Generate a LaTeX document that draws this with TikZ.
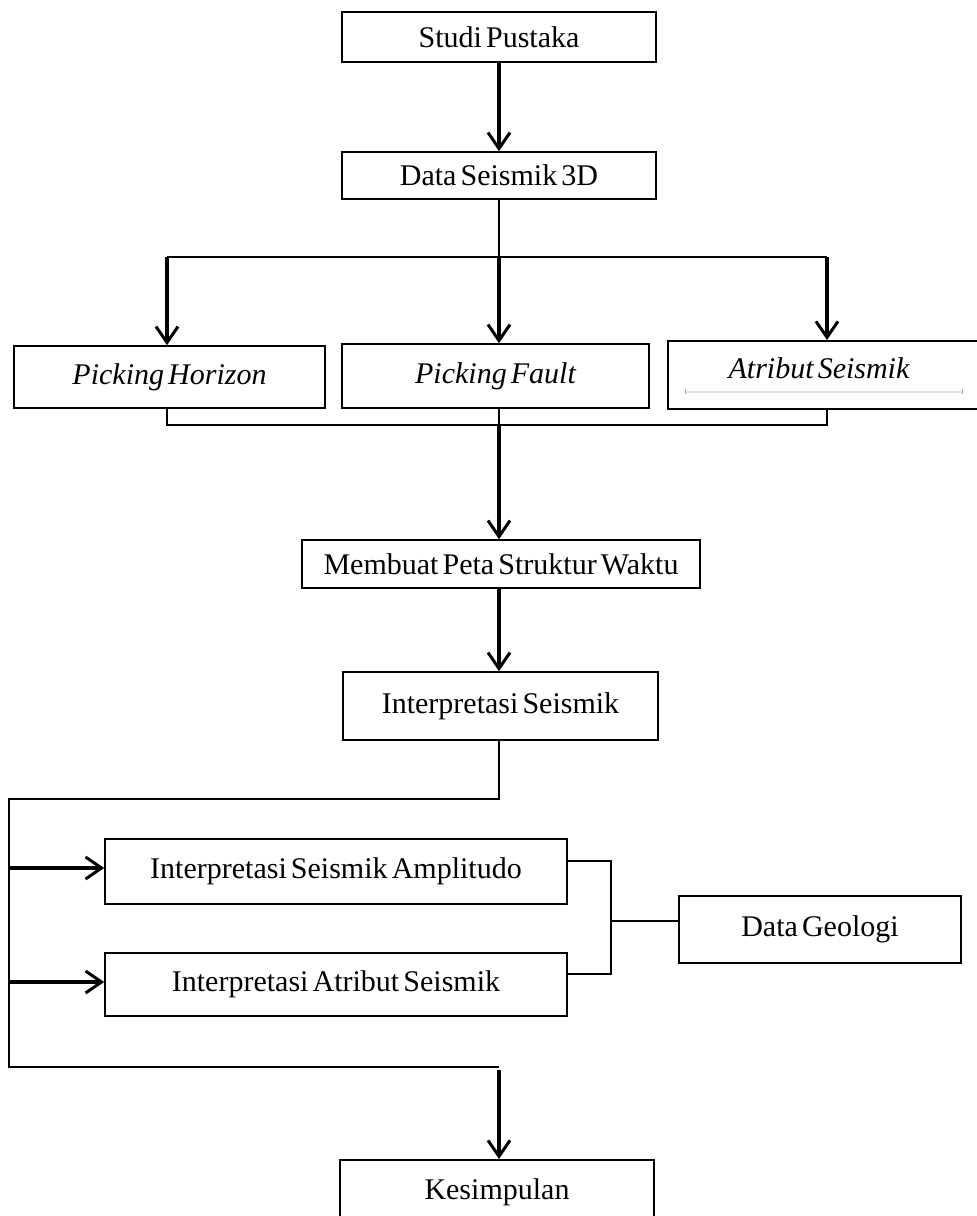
\documentclass[tikz,border=0pt]{standalone}
\usepackage{fontspec}
\setmainfont{Liberation Serif}[WordSpace=0.55]
\usetikzlibrary{arrows.meta,calc}
\begin{document}
\begin{tikzpicture}[x=1pt,y=-1pt,
  box/.style={draw, line width=1.6pt, rectangle, inner sep=0pt, font=\fontsize{30}{36}\selectfont},
  itext/.style={inner sep=0pt, font=\fontsize{30}{36}\selectfont\itshape},
  thinline/.style={line width=1.5pt},
  arr/.style={line width=3.5pt, -{Straight Barb[length=16pt,width=22pt,line width=3pt]}}]
\useasboundingbox (0,0) rectangle (977,1216);
\clip (0,0) rectangle (977,1216);
% boxes
\node[box, minimum width=314pt, minimum height=50pt] (studi) at (499,37) {Studi Pustaka};
\node[box, minimum width=314pt, minimum height=47pt] (data) at (499,175.5) {Data Seismik 3D};
\node[box, minimum width=311pt, minimum height=62pt] (ph) at (169.5,377) {\itshape Picking Horizon};
\node[box, minimum width=307pt, minimum height=64pt] (pf) at (495.5,376) {\itshape Picking Fault};
\node[box, minimum width=323pt, minimum height=68pt, anchor=north west] (as) at (667,340) {};
\node[itext] (astext) at (819,368) {Atribut Seismik};
\draw[black!12, line width=1.2pt] (685,392) -- (962,392);
\draw[black!35, line width=1pt] (685,389) -- (685,394) (962,389) -- (962,394);
\node[box, minimum width=398pt, minimum height=48pt] (memb) at (501,564) {Membuat Peta Struktur Waktu};
\node[box, minimum width=315pt, minimum height=68pt] (interp) at (500.5,706) {Interpretasi Seismik};
\node[box, minimum width=462pt, minimum height=65pt] (amp) at (336,871.5) {Interpretasi Seismik Amplitudo};
\node[box, minimum width=462pt, minimum height=63pt] (atr) at (336,984.5) {Interpretasi Atribut Seismik};
\node[box, minimum width=282pt, minimum height=67pt] (geo) at (820,929.5) {Data Geologi};
\node[box, minimum width=314pt, minimum height=64pt, anchor=north] (kes) at (497,1159) {Kesimpulan};
% coordinates
\coordinate (br) at (499,257);
\coordinate (brL) at (167,257);
\coordinate (brR) at (827,257);
\coordinate (jn) at (499,425);
\coordinate (jnL) at (167,425);
\coordinate (jnR) at (827,425);
\coordinate (lpT) at (9,799);
\coordinate (lpB) at (9,1067);
\coordinate (lpE) at (499,1067);
\coordinate (gx) at (611,921);
% connectors
\draw[arr] (studi.south) -- (data.north);
\draw[thinline] (data.south) -- (br);
\draw[line width=2pt] (brL) -- (brR);
\draw[arr] (brL) -- (brL |- ph.north);
\draw[arr] (br) -- (br |- pf.north);
\draw[arr] (brR) -- (brR |- as.north);
\draw[thinline] (jnL |- ph.south) -- (jnL) -- (jnR) -- (jnR |- as.south);
\draw[thinline] (jn |- pf.south) -- (jn);
\draw[arr] (jn) -- (jn |- memb.north);
\draw[arr] (memb.south -| jn) -- (jn |- interp.north);
\draw[thinline] (interp.south -| lpE) -- (lpE |- lpT) -- (lpT) -- (lpB) -- (lpE);
\draw[arr] (lpT |- 0,868) -- (amp.west |- 0,868);
\draw[arr] (lpT |- 0,982) -- (atr.west |- 0,982);
\draw[arr] ($(lpE)+(0,3)$) -- (lpE |- kes.north);
\draw[thinline] (amp.east |- 0,861) -- (gx |- 0,861) -- (gx |- 0,974) -- (atr.east |- 0,974);
\draw[thinline] (gx) -- (geo.west |- gx);
\end{tikzpicture}
\end{document}
